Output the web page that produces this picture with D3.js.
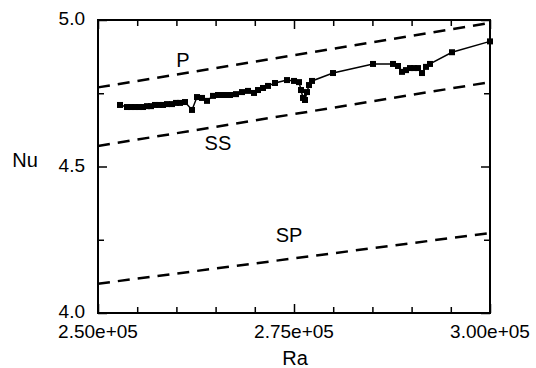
<!DOCTYPE html>
<html lang="en">
<head>
    <meta charset="UTF-8">
    <title>Nu vs Ra</title>
    <script src="https://cdn.jsdelivr.net/npm/d3@7"></script>
    <style>
        body { margin: 0; background: #fff; }
        text { font-family: "Liberation Sans", Arial, sans-serif; fill: #000; }
    </style>
</head>
<body>
    <script>
        // measured points (Ra, Nu)
        const ra = [252806, 253699, 254209, 254719, 255230, 255740, 256250, 256760, 257270, 257781,
                    258291, 258801, 259439, 259949, 260459, 261097, 261990, 262628, 263265, 263903,
                    264668, 265306, 266071, 266837, 267602, 268367, 269133, 269898, 270408, 271046,
                    271684, 272577, 274107, 275000, 275638, 275893, 276148, 276403, 276658, 276913,
                    277296, 279974, 285077, 287628, 288265, 288776, 289286, 289796, 290306, 290816,
                    291327, 291837, 292347, 295153, 300000];
        const nu = [4.710, 4.703, 4.703, 4.703, 4.703, 4.703, 4.706, 4.706, 4.710, 4.710,
                    4.710, 4.713, 4.713, 4.717, 4.717, 4.720, 4.693, 4.737, 4.734, 4.724,
                    4.741, 4.744, 4.744, 4.744, 4.747, 4.754, 4.758, 4.751, 4.761, 4.768,
                    4.775, 4.785, 4.795, 4.792, 4.788, 4.761, 4.734, 4.727, 4.754, 4.778,
                    4.792, 4.819, 4.850, 4.850, 4.843, 4.823, 4.829, 4.836, 4.836, 4.836,
                    4.819, 4.840, 4.850, 4.890, 4.927];

        // dashed reference lines, end points at Ra = 2.5e5 and 3.0e5
        const lineRa = [250000, 300000];
        const lineNames = ['P', 'SS', 'SP'];
        const lineP = [4.770, 4.990];
        const lineSS = [4.570, 4.788];
        const lineSP = [4.100, 4.273];

        const xMajor = [250000, 275000, 300000];
        const xMinor = [255000, 260000, 265000, 270000, 280000, 285000, 290000, 295000];
        const xTickLabels = ['2.50e+05', '2.75e+05', '3.00e+05'];
        const yMajor = [4.0, 4.5, 5.0];
        const yMinor = [4.25, 4.75];
        const yTickLabels = ['4.0', '4.5', '5.0'];

        const width = 536, height = 368;
        const margin = {top: 20, right: 46, bottom: 55, left: 98};

        const svg = d3.select('body').append('svg')
                        .attr('width', width)
                        .attr('height', height);

        const x = d3.scaleLinear().domain([250000, 300000]).range([margin.left, width - margin.right]);
        const y = d3.scaleLinear().domain([4.0, 5.0]).range([height - margin.bottom, margin.top]);

        // ticks pointing inward on all four sides
        function ticks(axisFn, scale, values, size, pos) {
            const g = svg.append('g')
                .attr('transform', pos)
                .call(axisFn(scale).tickValues(values).tickSize(size).tickFormat(''));
            g.select('.domain').remove();
            g.selectAll('line').attr('stroke', '#000').attr('stroke-width', 1.5);
        }
        const bottomY = y(4.0), topY = y(5.0), leftX = x(250000), rightX = x(300000);
        ticks(d3.axisBottom, x, xMajor, -9, `translate(0,${bottomY})`);
        ticks(d3.axisBottom, x, xMinor, -6, `translate(0,${bottomY})`);
        ticks(d3.axisTop, x, xMajor, -9, `translate(0,${topY})`);
        ticks(d3.axisTop, x, xMinor, -6, `translate(0,${topY})`);
        ticks(d3.axisLeft, y, yMajor, -9, `translate(${leftX},0)`);
        ticks(d3.axisLeft, y, yMinor, -6, `translate(${leftX},0)`);
        ticks(d3.axisRight, y, yMajor, -9, `translate(${rightX},0)`);
        ticks(d3.axisRight, y, yMinor, -6, `translate(${rightX},0)`);

        svg.append('rect')
            .attr('x', leftX).attr('y', topY)
            .attr('width', rightX - leftX).attr('height', bottomY - topY)
            .attr('fill', 'none').attr('stroke', '#000').attr('stroke-width', 2);

        // tick labels
        svg.selectAll('.xlab').data(xMajor).enter().append('text')
            .attr('class', 'xlab')
            .attr('x', d => x(d)).attr('y', bottomY + 25)
            .attr('text-anchor', 'middle').attr('font-size', '19px')
            .text((d, i) => xTickLabels[i]);
        svg.selectAll('.ylab').data(yMajor).enter().append('text')
            .attr('class', 'ylab')
            .attr('x', leftX - 13).attr('y', d => y(d) + 5)
            .attr('text-anchor', 'end').attr('font-size', '19px')
            .text((d, i) => yTickLabels[i]);

        svg.append('text').attr('x', 295).attr('y', 365)
            .attr('text-anchor', 'middle').attr('font-size', '20px').text('Ra');
        svg.append('text').attr('x', 25).attr('y', 167)
            .attr('text-anchor', 'middle').attr('font-size', '20px').text('Nu');

        // dashed lines
        const dashed = [lineP, lineSS, lineSP];
        const line = d3.line().x(d => x(d[0])).y(d => y(d[1]));
        dashed.forEach(vals => {
            svg.append('path')
                .datum(lineRa.map((r, i) => [r, vals[i]]))
                .attr('d', line)
                .attr('fill', 'none').attr('stroke', '#000')
                .attr('stroke-width', 2.5).attr('stroke-dasharray', '12,8');
        });

        // line labels
        const labelPos = [[260840, 4.840], [265300, 4.556], [274360, 4.242]];
        svg.selectAll('.llab').data(lineNames).enter().append('text')
            .attr('class', 'llab')
            .attr('x', (d, i) => x(labelPos[i][0])).attr('y', (d, i) => y(labelPos[i][1]))
            .attr('text-anchor', 'middle').attr('font-size', '20px')
            .text(d => d);

        // data line and markers
        const pts = ra.map((r, i) => [r, nu[i]]);
        svg.append('path').datum(pts).attr('d', line)
            .attr('fill', 'none').attr('stroke', '#000').attr('stroke-width', 1.5);
        svg.selectAll('.pt').data(pts).enter().append('rect')
            .attr('class', 'pt')
            .attr('x', d => x(d[0]) - 3).attr('y', d => y(d[1]) - 3)
            .attr('width', 6).attr('height', 6)
            .attr('fill', '#000');
    </script>
</body>
</html>
